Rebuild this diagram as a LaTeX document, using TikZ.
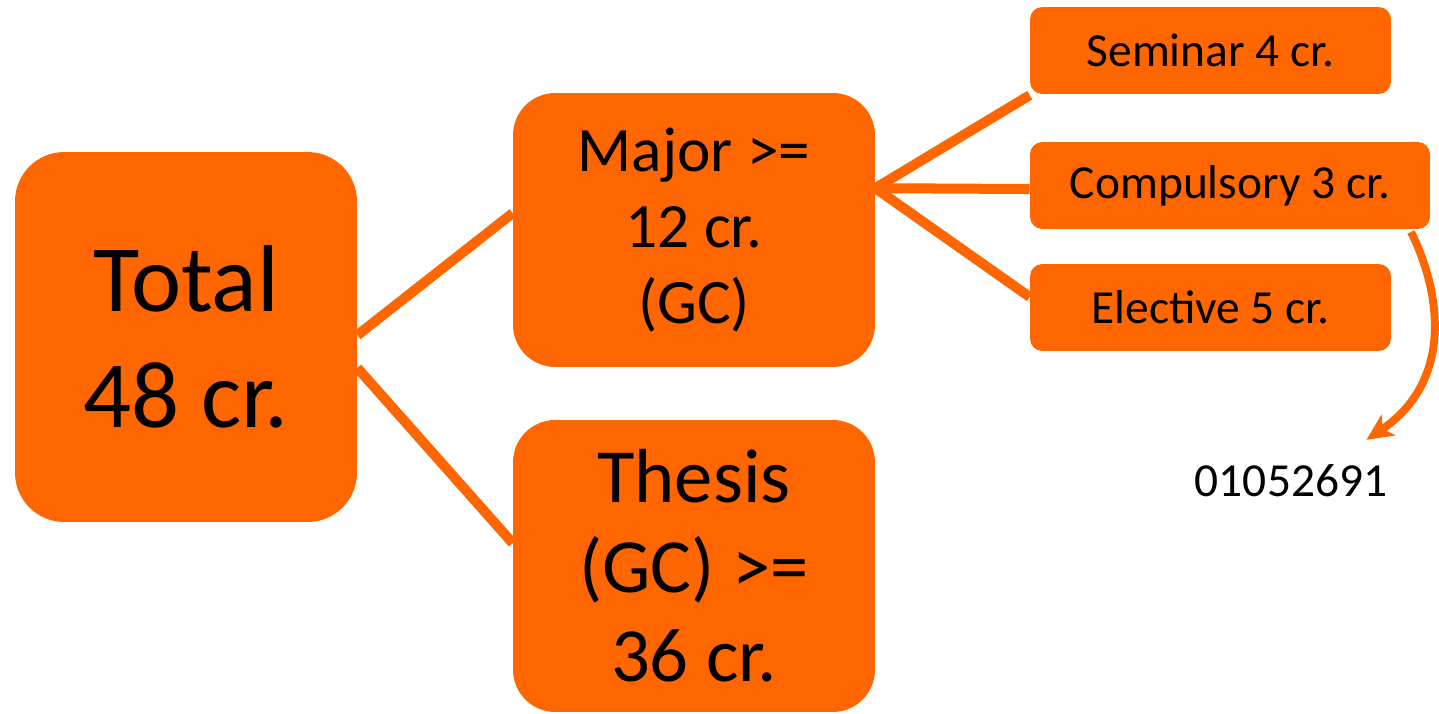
\documentclass[tikz,border=0pt]{standalone}
\usepackage{fontspec}
\setmainfont{Carlito}
\usetikzlibrary{arrows.meta,positioning}

\begin{document}
\begin{tikzpicture}[x=0.02cm,y=-0.02cm,
    every text node part/.style={align=center},
    bigbox/.style={fill=creditorange, rounded corners=24pt, inner sep=0pt},
    smallbox/.style={fill=creditorange, rounded corners=7pt, inner sep=0pt,
      minimum height=1.74cm, font=\fontsize{27}{32}\selectfont},
    link/.style={draw=creditorange, line width=5.7pt},
    pointer/.style={draw=creditorange, line width=4.5pt,
      -{Stealth[length=15pt,width=14pt,inset=4pt]}}]

\definecolor{creditorange}{RGB}{255,102,0}

    \useasboundingbox (0,0) rectangle (1439,713);

    %% main blocks
    \node[bigbox, rounded corners=28pt, minimum width=6.84cm, minimum height=7.4cm,
      font=\fontsize{54}{65.8}\selectfont] (total) at (186,337) {Total\\48 cr.};
    \node[bigbox, minimum width=7.24cm, minimum height=5.48cm,
      font=\fontsize{36}{43.1}\selectfont] (major) at (694,230) {Major >=\\12 cr.\\(GC)};
    \node[bigbox, minimum width=7.24cm, minimum height=5.84cm,
      font=\fontsize{43.6}{51}\selectfont] (thesis) at (694,566) {Thesis\\(GC) >=\\36 cr.};

    %% parts of the major
    \node[smallbox, minimum width=7.22cm] (seminar) at (1210.5,50.5) {Seminar 4 cr.};
    \node[smallbox, minimum width=8cm] (compulsory) at (1230,185.5) {Compulsory 3 cr.};
    \node[smallbox, minimum width=7.22cm] (elective) at (1210.5,307.5) {Elective 5 cr.};

    \node[inner sep=0pt, font=\fontsize{27}{32}\selectfont] (code) at (1291,481) {01052691};

    % tree lines
    \draw[link] ([yshift=1pt]total.east) -- ([yshift=9.6pt]major.west);
    \draw[link] ([yshift=-17.6pt]total.east) -- ([yshift=13pt]thesis.west);
    \draw[link] ([yshift=23.8pt]major.east) -- ([yshift=-0.5pt]seminar.south west);
    \draw[link] ([yshift=23.8pt]major.east) -- ([yshift=-2pt]compulsory.west);
    \draw[link] ([yshift=23.8pt]major.east) -- ([yshift=6pt]elective.west);

    % course code
    \draw[pointer] ([xshift=-11pt,yshift=-1.5pt]compulsory.south east)
      .. controls (1440,290) and (1455,380) .. ([xshift=-12pt,yshift=14pt]code.north east);
\end{tikzpicture}
\end{document}
